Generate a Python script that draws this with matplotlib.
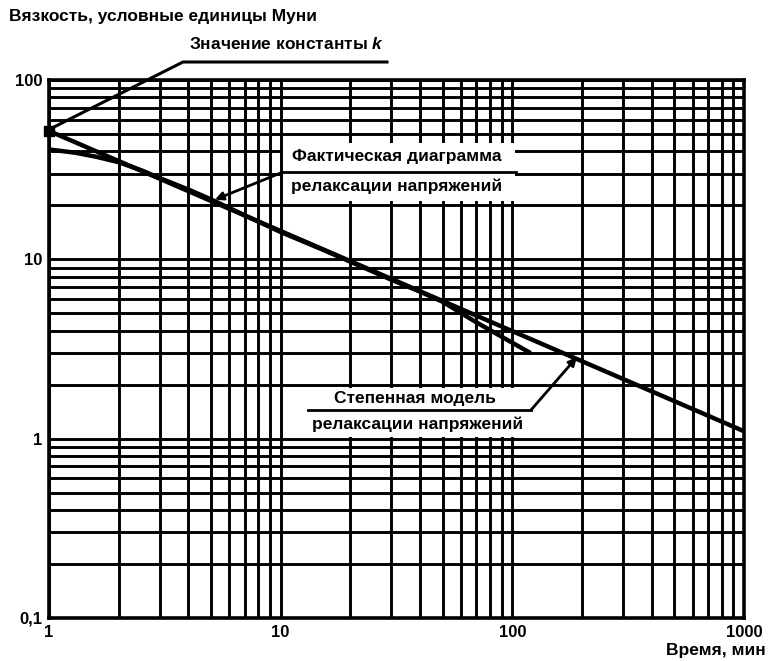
import matplotlib
matplotlib.use("Agg")
import matplotlib.pyplot as plt
from matplotlib.lines import Line2D
from matplotlib.ticker import FixedLocator, LogLocator, NullFormatter

# Фактическая кривая релаксации напряжений (время, мин / вязкость, ед. Муни)
fact_t = [1, 1.3, 1.6, 2, 2.5, 3, 4, 5, 7, 10, 15, 20, 30, 40, 50, 70, 90, 120]
fact_v = [41, 39.3, 37.3, 34.8, 31.4, 28.4, 24.5, 21.6, 17.6, 14.2, 11.4, 9.7,
          7.7, 6.6, 5.8, 4.45, 3.7, 3.0]

# Степенная модель: прямая в логарифмических осях
model_t = [1, 1000]
model_v = [52, 1.1]
k_value = 52

x_ticks = [1, 10, 100, 1000]
x_labels = ["1", "10", "100", "1000"]
y_ticks = [0.1, 1, 10, 100]
y_labels = ["0,1", "1", "10", "100"]

plt.rcParams['font.family'] = ['Liberation Sans', 'DejaVu Sans']
plt.rcParams['font.weight'] = 'bold'
plt.rcParams['mathtext.fontset'] = 'custom'
plt.rcParams['mathtext.it'] = 'Liberation Sans:italic:bold'

W, H = 768, 661
fig = plt.figure(figsize=(W / 100, H / 100), dpi=100)
ax = fig.add_axes([49 / W, 1 - 618 / H, (744 - 49) / W, (618 - 80) / H])


def fx(px):
    return px / W


def fy(py):
    return 1 - py / H


ax.set_xscale('log')
ax.set_yscale('log')
ax.set_xlim(1, 1000)
ax.set_ylim(0.1, 100)

ax.xaxis.set_major_locator(FixedLocator(x_ticks))
ax.yaxis.set_major_locator(FixedLocator(y_ticks))
ax.set_xticklabels(x_labels, fontsize=12, fontweight='bold')
ax.set_yticklabels(y_labels, fontsize=12, fontweight='bold')
ax.xaxis.set_minor_locator(LogLocator(base=10, subs=range(2, 10)))
ax.yaxis.set_minor_locator(LogLocator(base=10, subs=range(2, 10)))
ax.xaxis.set_minor_formatter(NullFormatter())
ax.yaxis.set_minor_formatter(NullFormatter())
ax.tick_params(which='both', length=0, pad=5)

ax.grid(True, which='both', color='black', linewidth=2.1)
for s in ax.spines.values():
    s.set_linewidth(2.6)

# кривые
ax.plot(fact_t, fact_v, color='black', linewidth=3.2, solid_capstyle='butt', zorder=3)
ax.plot(model_t, model_v, color='black', linewidth=3.2, solid_capstyle='butt', zorder=3)
ax.plot([1], [k_value], marker='s', markersize=7, color='black', clip_on=False, zorder=4)

fs = 12.5

# подписи осей
fig.text(fx(9), fy(17), "Вязкость, условные единицы Муни", fontsize=fs,
         fontweight='bold', va='center', ha='left')
fig.text(fx(766), fy(651), "Время, мин", fontsize=fs, fontweight='bold',
         va='center', ha='right')

# значение константы k
fig.text(fx(287), fy(44), "Значение константы $k$", fontsize=fs, fontweight='bold',
         ha='center', va='center')
fig.add_artist(Line2D([fx(387), fx(183), fx(52)], [fy(62), fy(62), fy(128)],
                      color='black', linewidth=2.2))

lw_note = 2.0
arrow = dict(arrowstyle='-|>', color='black', lw=lw_note, mutation_scale=12,
             shrinkA=0, shrinkB=0)

# фактическая диаграмма
fig.patches.append(plt.Rectangle((fx(283), fy(201)), fx(515) - fx(283), fy(143) - fy(201),
                                 transform=fig.transFigure, facecolor='white',
                                 edgecolor='none', zorder=5))
fig.text(fx(397), fy(157), "Фактическая диаграмма", fontsize=fs, fontweight='bold',
         ha='center', va='center', zorder=6)
fig.text(fx(397), fy(186), "релаксации напряжений", fontsize=fs, fontweight='bold',
         ha='center', va='center', zorder=6)
fig.add_artist(Line2D([fx(283), fx(516)], [fy(172), fy(172)], color='black',
                      linewidth=lw_note, zorder=6))
ax.annotate("", xy=(5.2, 21.5), xycoords='data',
            xytext=(fx(283), fy(172)), textcoords='figure fraction',
            arrowprops=arrow, zorder=6, annotation_clip=False)

# степенная модель
fig.patches.append(plt.Rectangle((fx(305), fy(437)), fx(530) - fx(305), fy(388) - fy(437),
                                 transform=fig.transFigure, facecolor='white',
                                 edgecolor='none', zorder=5))
fig.text(fx(415), fy(398), "Степенная модель", fontsize=fs, fontweight='bold',
         ha='center', va='center', zorder=6)
fig.text(fx(418), fy(424), "релаксации напряжений", fontsize=fs, fontweight='bold',
         ha='center', va='center', zorder=6)
fig.add_artist(Line2D([fx(308), fx(531)], [fy(410), fy(410)], color='black',
                      linewidth=lw_note, zorder=6))
ax.annotate("", xy=(190, 2.85), xycoords='data',
            xytext=(fx(531), fy(410)), textcoords='figure fraction',
            arrowprops=arrow, zorder=6, annotation_clip=False)

fig.savefig("out.png", dpi=100)
plt.close(fig)
